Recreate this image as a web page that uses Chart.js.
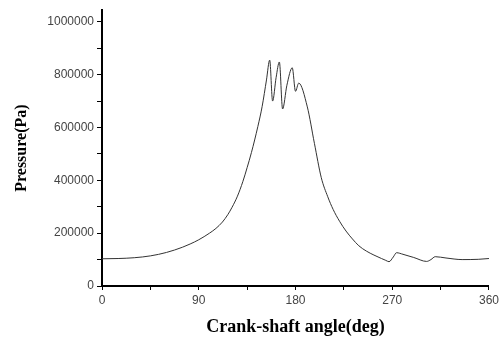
<!DOCTYPE html>
<html>
<head>
<meta charset="utf-8">
<script src="https://cdn.jsdelivr.net/npm/chart.js@4"></script>
<style>
  body { margin: 0; background: #fff; }
  #wrap { width: 502px; height: 338px; }
</style>
</head>
<body>
<div id="wrap"><canvas id="myChart"></canvas></div>
<script>
// crank angle (deg) and cylinder pressure (Pa)
let angles = [0, 15, 30, 45, 60, 75, 82, 90, 100, 106, 112, 117, 121, 126, 131, 135, 139,
  145, 149, 153, 156, 158.7, 162, 165, 168, 172, 177, 180, 183, 191, 197.6, 204, 210,
  215, 221, 227, 233, 239, 246, 253, 260, 264, 267, 271, 274, 280, 290, 302, 306, 310,
  320, 335, 350, 360];
let pressure = [103000, 104000, 107000, 114000, 127000, 147000, 159000, 175000, 200000,
  218000, 242000, 270000, 298000, 340000, 395000, 448000, 505000, 604000, 680000, 780000,
  855000, 700000, 790000, 848000, 670000, 760000, 826000, 737000, 768000, 678000, 540000,
  410000, 338000, 290000, 245000, 208000, 178000, 152000, 132000, 117000, 104000, 97000,
  92000, 110000, 126000, 120000, 108000, 93000, 100000, 111000, 106000, 100000, 101000,
  104000];
let xTicks = [0, 45, 90, 135, 180, 225, 270, 315, 360];
let yTicks = [0, 100000, 200000, 300000, 400000, 500000, 600000, 700000, 800000, 900000, 1000000];

let points = angles.map((a, i) => ({ x: a, y: pressure[i] }));

let tickFont = { family: 'Liberation Sans', size: 12 };

let ctx = document.getElementById('myChart').getContext('2d');
let pressureChart = new Chart(ctx, {
  type: 'line',
  data: {
    datasets: [{
      data: points,
      borderColor: '#333',
      borderWidth: 1,
      pointRadius: 0,
      cubicInterpolationMode: 'monotone',
      fill: false
    }]
  },
  options: {
    responsive: true,
    maintainAspectRatio: false,
    animation: false,
    plugins: { legend: { display: false }, tooltip: { enabled: false } },
    layout: { padding: { top: 4, right: 12, left: 0, bottom: 0 } },
    scales: {
      x: {
        type: 'linear',
        min: 0,
        max: 360,
        afterBuildTicks: s => { s.ticks = xTicks.map(v => ({ value: v })); },
        afterFit: s => { s.height = 52; },
        grid: { drawOnChartArea: false, color: '#000', tickLength: 4 },
        border: { color: '#000', width: 2 },
        ticks: {
          color: '#444',
          font: tickFont,
          padding: 3,
          maxRotation: 0,
          autoSkip: false,
          callback: v => (v % 90 === 0 ? v : '')
        },
        title: {
          display: true,
          text: 'Crank-shaft angle(deg)',
          color: '#000',
          font: { family: 'Liberation Serif', size: 18, weight: 'bold' },
          padding: { top: 0, bottom: 0 }
        }
      },
      y: {
        min: 0,
        max: 1044000,
        afterBuildTicks: s => { s.ticks = yTicks.map(v => ({ value: v })); },
        afterFit: s => { s.width = 102; },
        grid: { drawOnChartArea: false, color: '#000', tickLength: 5 },
        border: { color: '#000', width: 2 },
        ticks: {
          color: '#444',
          font: tickFont,
          padding: 3,
          autoSkip: false,
          callback: v => (v % 200000 === 0 ? v : '')
        },
        title: {
          display: true,
          text: 'Pressure(Pa)',
          color: '#000',
          font: { family: 'Liberation Serif', size: 16, weight: 'bold' },
          padding: { top: 12, bottom: 0 }
        }
      }
    }
  }
});
</script>
</body>
</html>
